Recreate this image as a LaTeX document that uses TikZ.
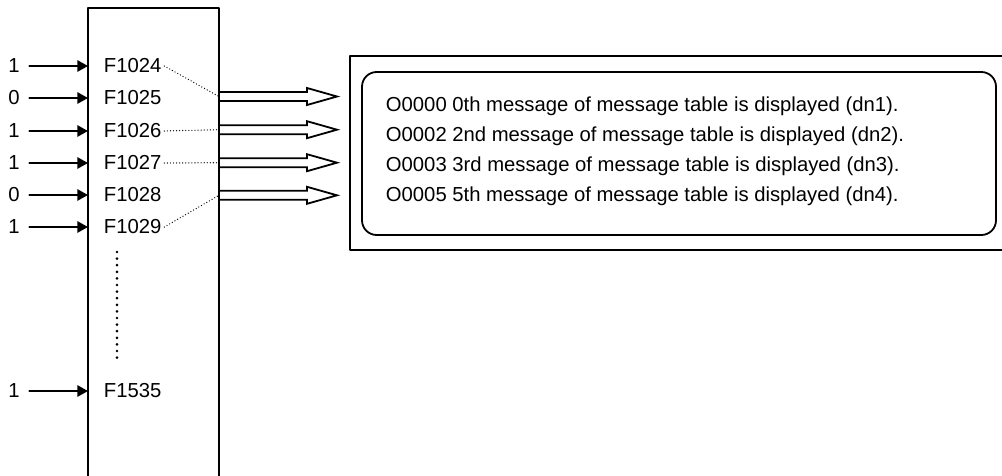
\documentclass[tikz,border=0pt]{standalone}
\usepackage{fontspec}
\setmainfont{Liberation Sans}
\usetikzlibrary{arrows.meta}

\begin{document}
\begin{tikzpicture}[line cap=round,line join=round,x=0.75pt,y=-0.75pt,
	lbl/.style={inner sep=2pt,font=\fontsize{15.2}{18}\selectfont},
	frame/.style={line width=1.35pt},
	inarrow/.style={line width=1.35pt,-{Triangle[length=8pt,width=8.5pt]},shorten <=5pt},
	dblarrow/.style={line width=1.35pt,line cap=butt,line join=miter},
	thindots/.style={line width=1pt,dash pattern=on 0pt off 2.3pt},
	bigdots/.style={line width=2.2pt,dash pattern=on 0pt off 4.95pt}]
		\useasboundingbox (0,0) rectangle (1002,475);
		\clip (0,0) rectangle (1002,475);
		% signal register box, open at the bottom
		\draw[frame] (88,485) -- (88,8) -- (219,8) -- (219,485);
		\coordinate (boxl) at (88,0);
		% inputs and signal names
		\foreach \i/\y/\v in {1024/66/1,1025/98/0,1026/131/1,1027/163/1,1028/195/0,1029/227/1,1535/391/1}
		{
			\node[lbl] (d\i) at (14,\y) {\v};
			\node[lbl,anchor=west] (f\i) at (101,\y) {F\i};
			\draw[inarrow] (d\i.east) -- (d\i.east -| boxl);
		}
		\draw[bigdots] (117,252) -- (117,363);
		% outputs to the message display
		\foreach \i/\c in {1/96.5,2/129.7,3/162.7,4/195.3}
		{
			\coordinate (out\i) at (219,\c);
			\draw[dblarrow] (out\i) ++(0,-4.5) -- ++(88,0) -- ++(0,-4) -- ++(30,8.5) -- ++(-30,8.5) -- ++(0,-4) -- ++(-88,0);
		}
		\draw[thindots] (f1024.east) -- (out1);
		\draw[thindots] (f1026.east) -- (out2);
		\draw[thindots] (f1027.east) -- (out3);
		\draw[thindots] (f1029.east) -- (out4);
		% screen
		\draw[frame] (350,56) rectangle (1012,250);
		\draw[frame,rounded corners=11pt] (362,72) rectangle (996,235);
		\node[lbl,anchor=base west] (msg1) at (383,111) {O0000 0th message of message table is displayed (dn1).};
		\node[lbl,anchor=base west] (msg2) at (383,141) {O0002 2nd message of message table is displayed (dn2).};
		\node[lbl,anchor=base west] (msg3) at (383,171) {O0003 3rd message of message table is displayed (dn3).};
		\node[lbl,anchor=base west] (msg4) at (383,201) {O0005 5th message of message table is displayed (dn4).};
	\end{tikzpicture}
\end{document}
